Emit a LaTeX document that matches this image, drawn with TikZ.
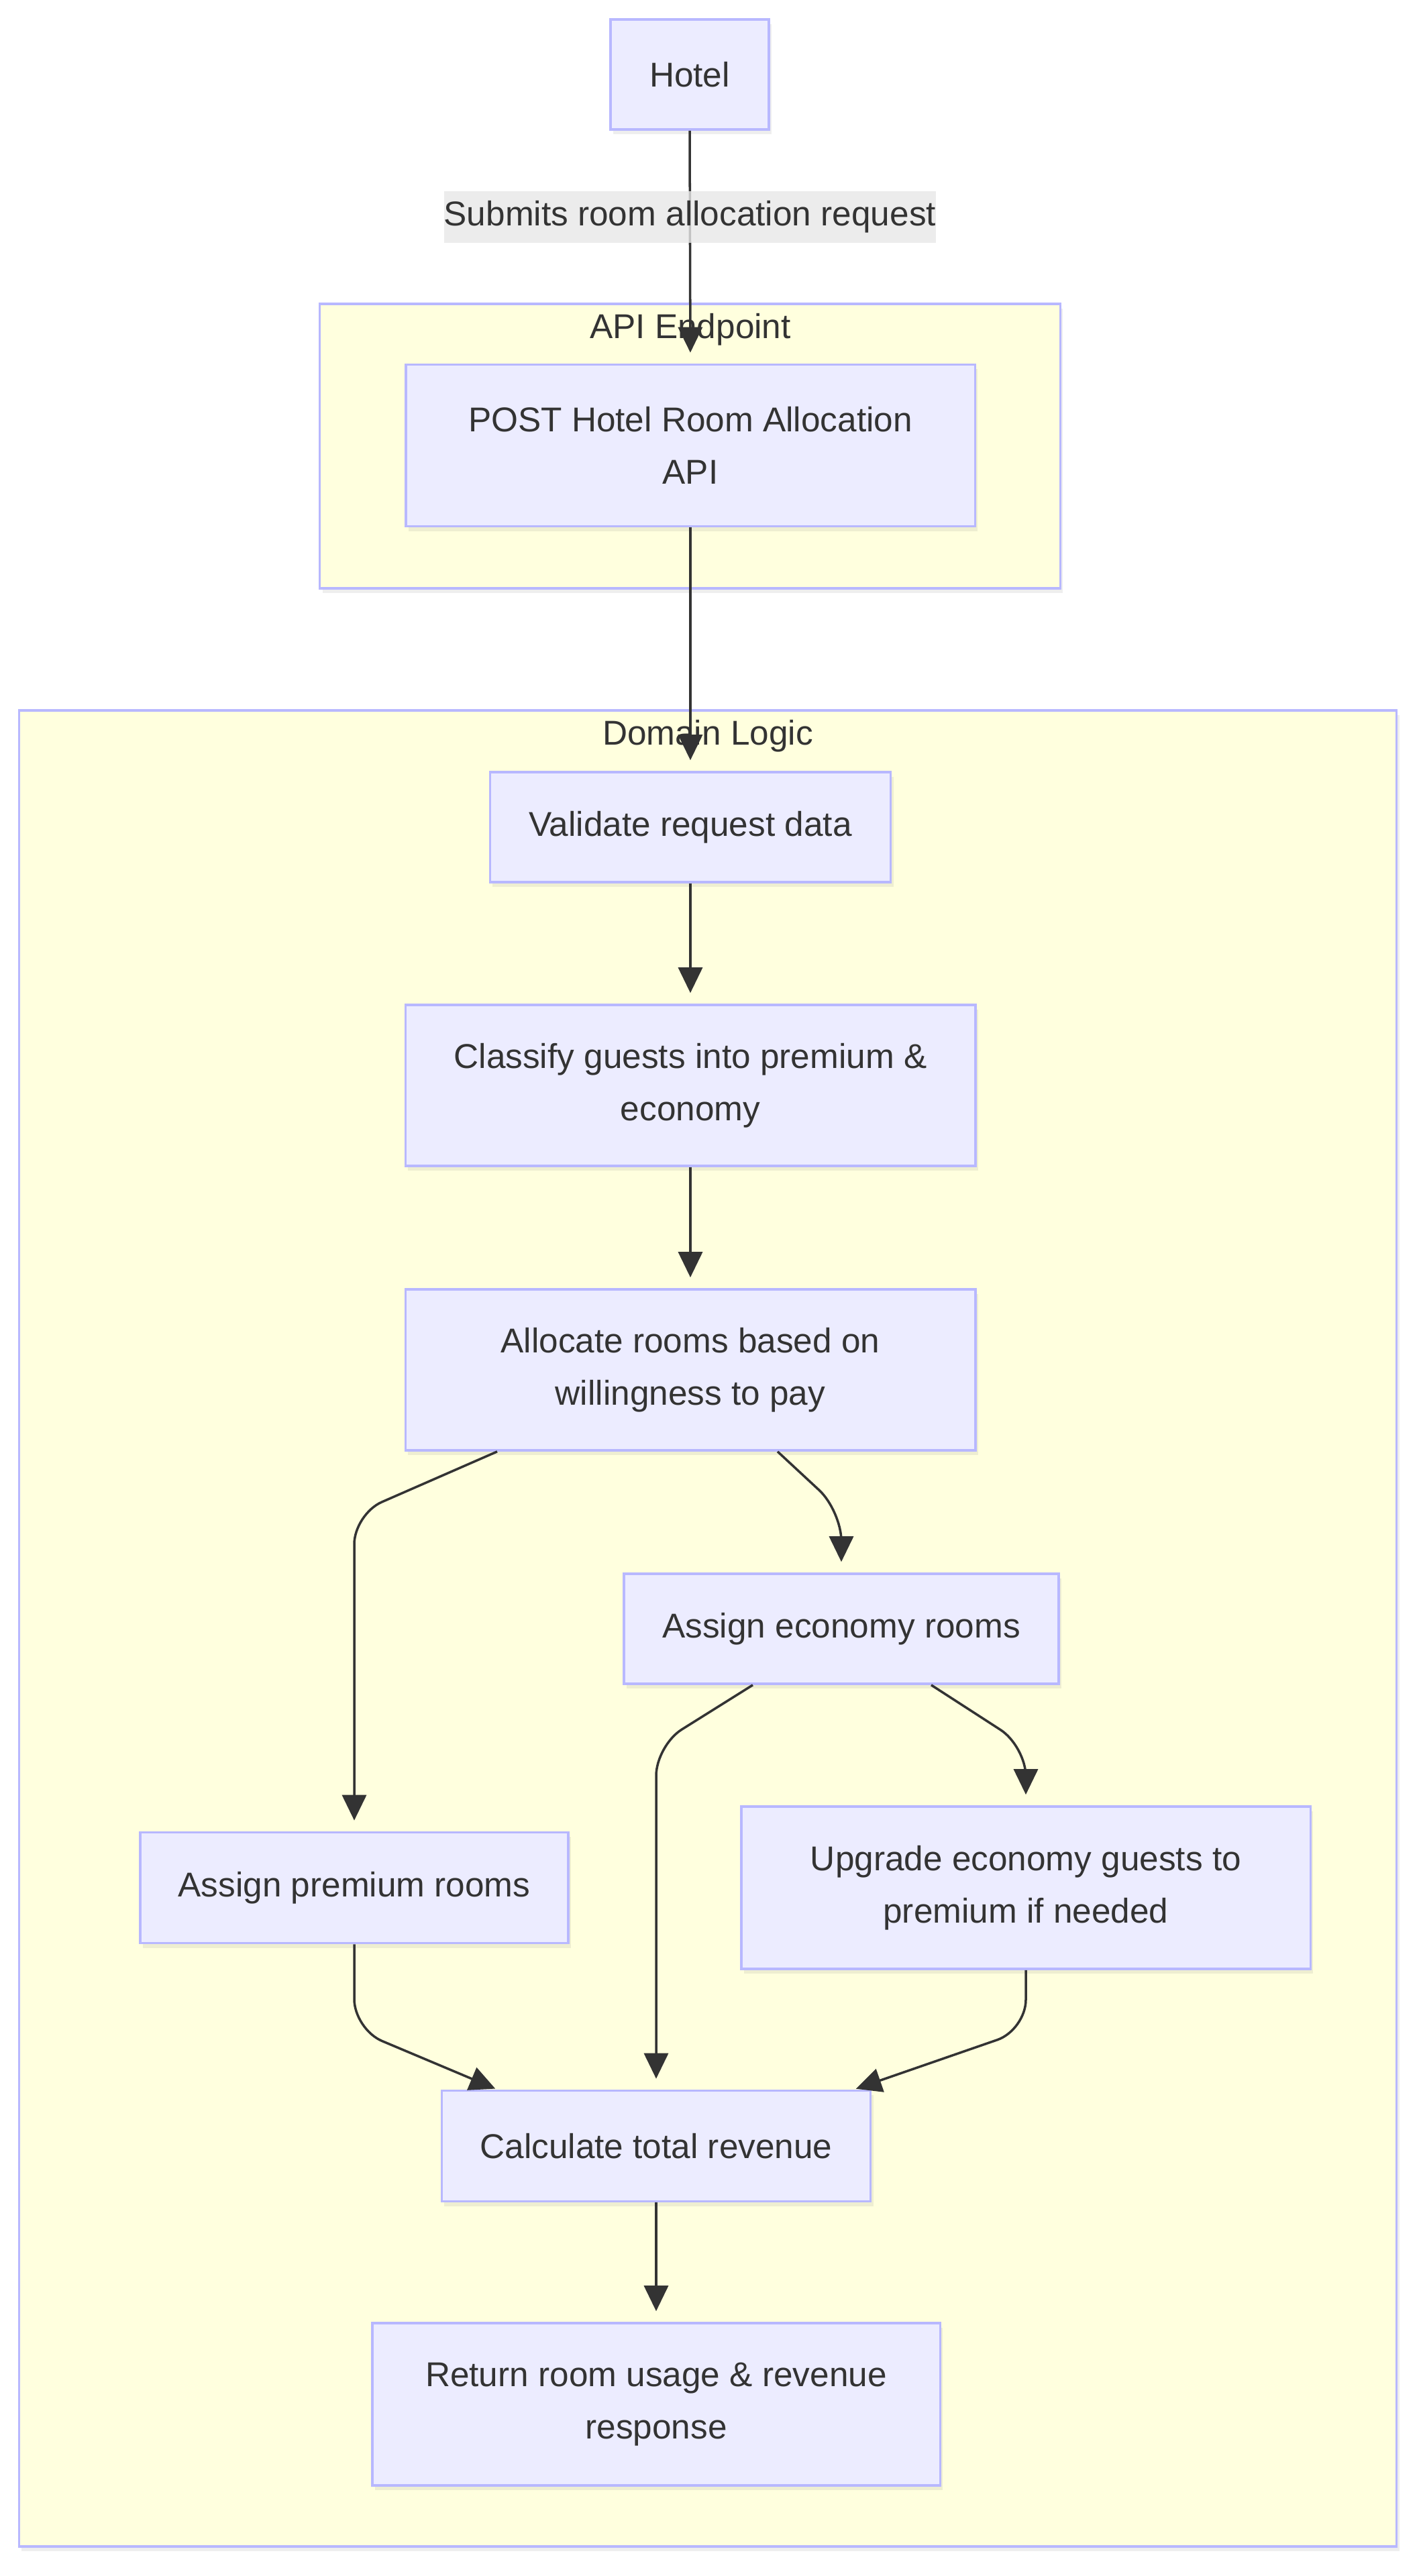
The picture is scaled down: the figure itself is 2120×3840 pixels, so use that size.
\documentclass[tikz,border=0pt]{standalone}
\usepackage{fontspec}
\setmainfont{Liberation Sans}
\usetikzlibrary{arrows.meta,calc,shadows}
\definecolor{nodefill}{HTML}{ECECFF}
\definecolor{nodeline}{HTML}{B8B8FF}
\definecolor{clusterfill}{HTML}{FFFFDE}
\definecolor{textgray}{HTML}{333333}
\definecolor{labelfill}{HTML}{E8E8E8}

\begin{document}
\begin{tikzpicture}[x=0.01cm,y=-0.01cm,
    font=\fontsize{14.6pt}{22.2pt}\selectfont,
    box/.style={draw=nodeline, fill=nodefill, line width=1pt, align=center, text=textgray, inner sep=0pt,
        drop shadow={shadow xshift=0.04cm, shadow yshift=-0.07cm, opacity=0.13}},
    cluster/.style={draw=nodeline, fill=clusterfill, line width=1pt, inner sep=0pt,
        drop shadow={shadow xshift=0.04cm, shadow yshift=-0.07cm, opacity=0.13}},
    clustertitle/.style={text=textgray, inner sep=0pt},
    edgelabel/.style={sharp corners, fill=labelfill, fill opacity=0.8, text opacity=1, text=textgray,
        inner xsep=0pt, minimum height=0.77cm},
    flow/.style={draw=textgray, line width=1pt, rounded corners=0.45cm, shorten >=0.16cm,
        -{Triangle[length=0.38cm,width=0.36cm]}}]

    \fill[white] (0,0) rectangle (2120,3840);
    \useasboundingbox (0,0) rectangle (2120,3840);

    % subgraphs
    \node[cluster, minimum width=11.03cm, minimum height=4.24cm] (apiend) at (1028.5,665) {};
    \node[clustertitle] (apititle) at (1029,491) {API Endpoint};
    \node[cluster, minimum width=20.52cm, minimum height=27.35cm] (domain) at (1055,2427.5) {};
    \node[clustertitle] (domaintitle) at (1055,1097) {Domain Logic};

    % steps
    \node[box, minimum width=2.36cm, minimum height=1.64cm] (hotel) at (1028,111) {Hotel};
    \node[box, minimum width=8.48cm, minimum height=2.41cm] (post) at (1029,664) {POST Hotel Room Allocation\\API};
    \node[box, minimum width=5.97cm, minimum height=1.64cm] (validate) at (1029,1233) {Validate request data};
    \node[box, minimum width=8.49cm, minimum height=2.40cm] (classify) at (1029,1618) {Classify guests into premium \&\\economy};
    \node[box, minimum width=8.49cm, minimum height=2.40cm] (allocate) at (1029,2042) {Allocate rooms based on\\willingness to pay};
    \node[box, minimum width=6.48cm, minimum height=1.64cm] (economy) at (1254,2428) {Assign economy rooms};
    \node[box, minimum width=6.38cm, minimum height=1.65cm] (premium) at (528,2814) {Assign premium rooms};
    \node[box, minimum width=8.48cm, minimum height=2.42cm] (upgrade) at (1529,2814) {Upgrade economy guests to\\premium if needed};
    \node[box, minimum width=6.39cm, minimum height=1.65cm] (calc) at (978,3199) {Calculate total revenue};
    \node[box, minimum width=8.46cm, minimum height=2.42cm] (result) at (978,3584) {Return room usage \& revenue\\response};

    % connectors
    \draw[flow] (hotel.south) -- node[edgelabel, pos=0.37] {Submits room allocation request} (post.north);
    \draw[flow] (post.south) -- (validate.north);
    \draw[flow] (validate) -- (classify);
    \draw[flow] (classify) -- (allocate);
    \draw[flow] ($(allocate.south)+(-288,0)$) -- (528,2257) -- (premium.north);
    \draw[flow] ($(allocate.south)+(130,0)$) -- (1254,2252) -- (economy.north);
    \draw[flow] ($(economy.south)+(-132,0)$) -- (978,2602) -- (calc.north);
    \draw[flow] ($(economy.south)+(134,0)$) -- (1529,2603) -- (upgrade.north);
    \draw[flow, shorten >=0.03cm] (premium.south) -- (528,3025) -- ($(calc.north)+(-237,0)$);
    \draw[flow, shorten >=0.03cm] (upgrade.south) -- (1529,3026) -- ($(calc.north)+(295,0)$);
    \draw[flow] (calc) -- (result);
\end{tikzpicture}
\end{document}
